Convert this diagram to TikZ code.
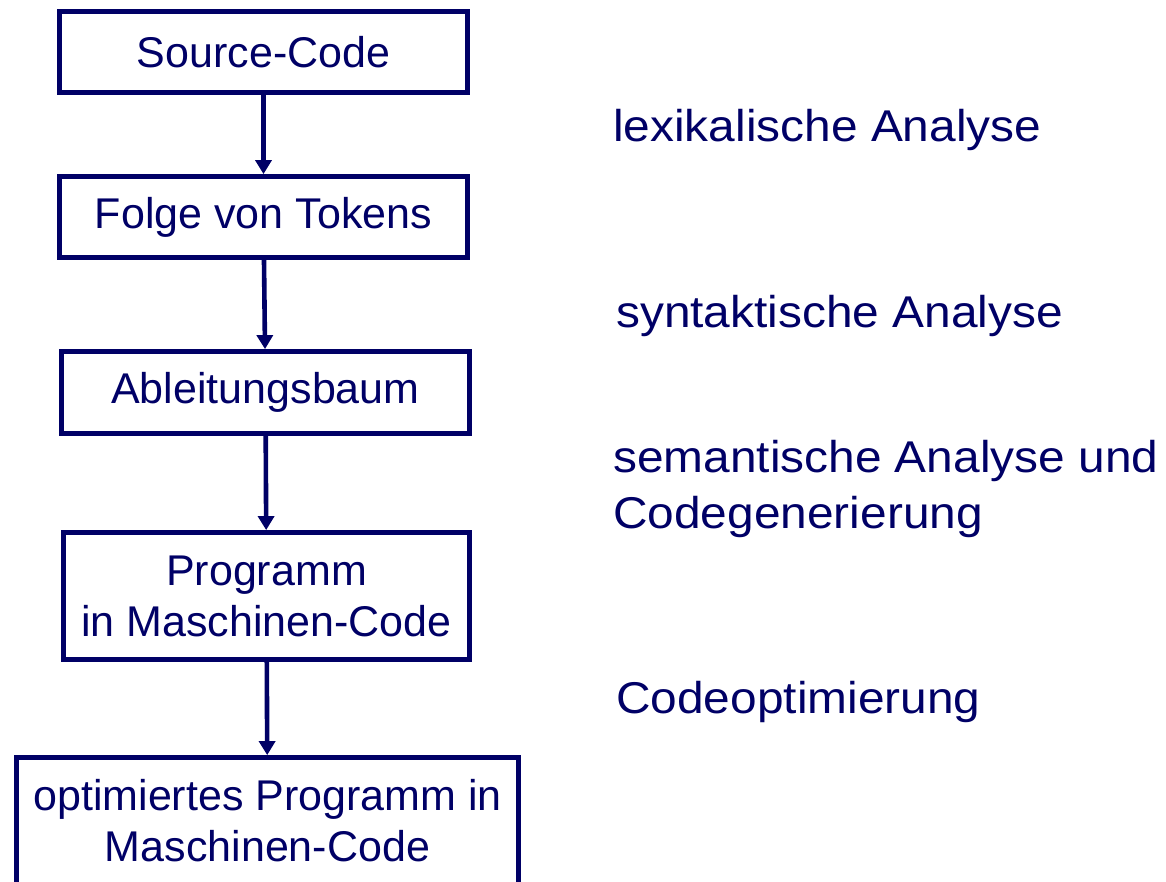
\documentclass[tikz,border=0pt]{standalone}
\usepackage{fontspec}
\setmainfont{Liberation Sans}
\newfontfamily\widesans[FakeStretch=1.075]{Liberation Sans}
\usepackage{tikz}
\usetikzlibrary{arrows.meta}
\definecolor{navy}{RGB}{0,0,102}

\begin{document}
\begin{tikzpicture}[x=1pt, y=-1pt,
    box/.style={draw=navy, line width=4.8pt, inner sep=0pt, align=center,
        text=navy, font=\fontsize{43}{51}\selectfont},
    phase/.style={anchor=base west, inner sep=0pt, align=left,
        text=navy, font=\widesans\fontsize{44.5}{56}\selectfont},
    flow/.style={navy, line width=4.6pt, -{Triangle[width=16pt,length=14pt]}}]
    \useasboundingbox (0,0) rectangle (1166,882);

    % Boxes
    \node[box, minimum width=408pt, minimum height=81pt] (src) at (263.5,52) {Source-Code};
    \node[box, minimum width=408pt, minimum height=81pt] (tok) at (263.5,217) {Folge von Tokens};
    \node[box, minimum width=408pt, minimum height=82pt] (tree) at (265.5,392.5) {Ableitungsbaum};
    \node[box, minimum width=406pt, minimum height=127pt] (prog) at (266.5,596) {Programm\\in Maschinen-Code};
    \node[box, minimum width=502pt, minimum height=127pt] (opt) at (267.5,821) {optimiertes Programm in\\Maschinen-Code};

    % Arrows
    \draw[flow] (src) -- (tok);
    \draw[flow] (tok) -- (tree);
    \draw[flow] (tree) -- (prog);
    \draw[flow] (prog) -- (opt);

    % Phases (base = last line)
    \node[phase] (lex) at (613,142) {lexikalische Analyse};
    \node[phase] (syn) at (616,327) {syntaktische Analyse};
    \node[phase] (sem) at (613,528) {semantische Analyse und\\Codegenerierung};
    \node[phase] (cop) at (616,713) {Codeoptimierung};
\end{tikzpicture}
\end{document}
